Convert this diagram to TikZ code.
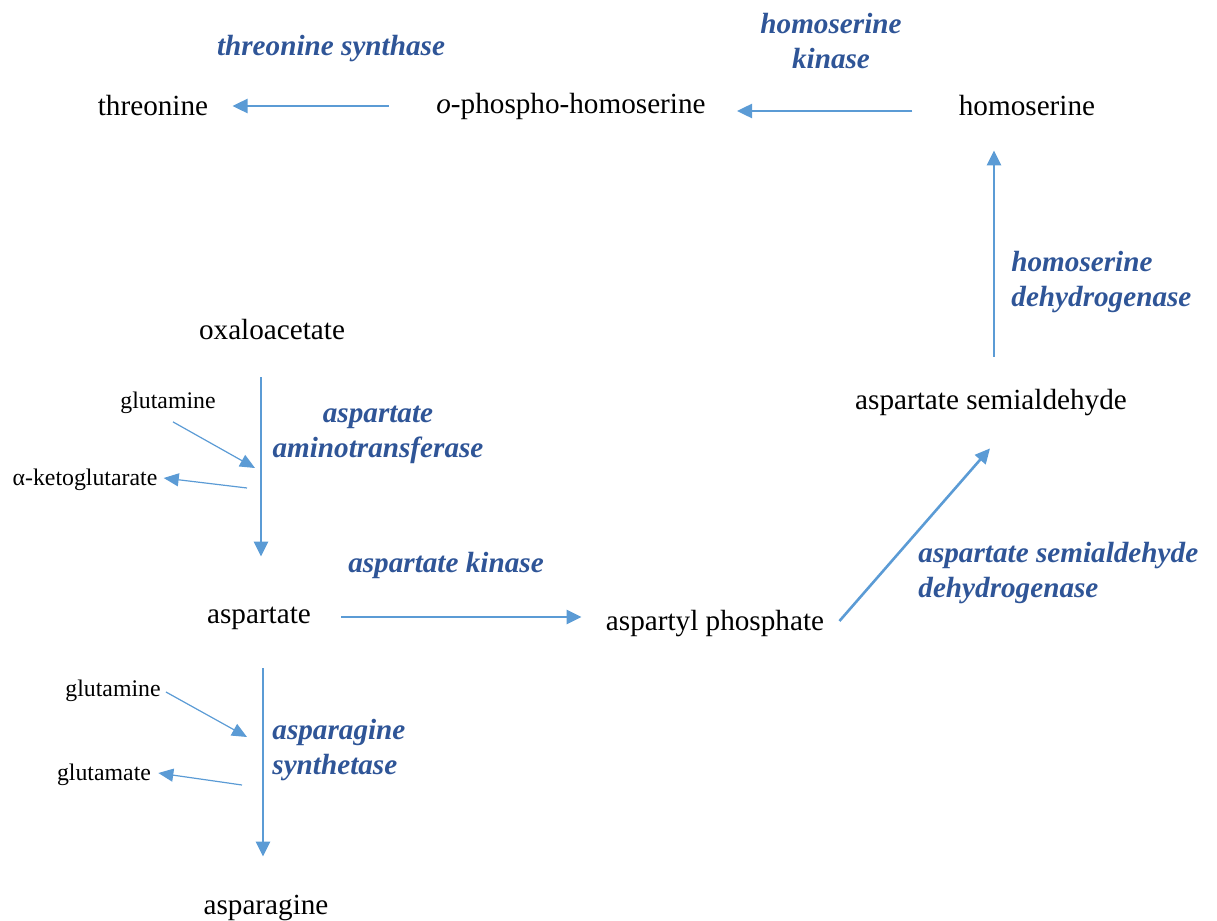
\documentclass[tikz,border=0pt]{standalone}
\usepackage{fontspec}
\setmainfont{Liberation Serif}
\usepackage{xcolor}
\usetikzlibrary{arrows.meta,positioning,calc}

\definecolor{arrowblue}{HTML}{5B9BD5}
\definecolor{enzblue}{HTML}{2F5597}

\tikzset{
    compound/.style={inner sep=0pt,font=\fontsize{14.6}{17.5}\selectfont,text height=11pt,text depth=3pt},
    cofactor/.style={inner sep=0pt,font=\fontsize{11.9}{14}\selectfont,text height=9.5pt,text depth=2.5pt},
    enzyme/.style={inner sep=0pt,text=enzblue,font=\fontsize{14.6}{17.5}\selectfont\bfseries\itshape},
    flow/.style={draw=arrowblue,line width=1.3pt,-{Triangle[length=7.5pt,width=7pt]}},
    side/.style={draw=arrowblue,line width=0.6pt,-{Triangle[length=7.5pt,width=6.5pt]}}
}

\begin{document}
\begin{tikzpicture}[x=0.5pt,y=-0.5pt]
    \useasboundingbox (0,0) rectangle (1217,921);

    \node[compound] (thr) at (153,107) {threonine};
    \node[compound] (ophos) at (571,105) {\textit{o}-phospho-homoserine};
    \node[compound] (hom) at (1027,107) {homoserine};
    \node[compound] (asa) at (991,401) {aspartate semialdehyde};
    \node[compound] (aspP) at (715,622) {aspartyl phosphate};
    \node[compound] (oxa) at (272,331) {oxaloacetate};
    \node[compound] (asp) at (259,615) {aspartate};
    \node[compound] (asn) at (266,906) {asparagine};

    \node[cofactor] (gln1) at (168,401) {glutamine};
    \node[cofactor] (akg) at (85,478) {α-ketoglutarate};
    \node[cofactor] (gln2) at (113,689) {glutamine};
    \node[cofactor] (glu) at (104,773) {glutamate};

    \node[enzyme] (ts) at (331,49) {threonine synthase};
    \node[enzyme,align=center] (hk) at (831,41) {homoserine\\kinase};
    \node[enzyme,align=left,anchor=west] (hd) at (1011,282) {homoserine\\dehydrogenase};
    \node[enzyme,align=left,anchor=west] (asd) at (918,573) {aspartate semialdehyde\\dehydrogenase};
    \node[enzyme] (ak) at (446,565) {aspartate kinase};
    \node[enzyme,align=center] (aat) at (378,435) {aspartate\\aminotransferase};
    \node[enzyme,align=left,anchor=west] (as) at (272,750) {asparagine\\synthetase};

    % main pathway
    \draw[flow,shorten <=23.5pt,shorten >=12pt] ([yshift=-0.5pt]ophos.west) -- ([yshift=0.5pt]thr.east);
    \draw[flow,shorten <=23pt,shorten >=15.5pt] ([yshift=-2pt]hom.west) -- ([yshift=-3pt]ophos.east);
    \draw[flow] ([shift={(1.5pt,15pt)}]asa.north) -- ([shift={(-16.5pt,-14.5pt)}]hom.south);
    \draw[flow,shorten <=15pt,shorten >=12pt] ([yshift=-1pt]asp.east) -- ([yshift=2.5pt]aspP.west);
    \draw[flow] ([shift={(7.5pt,0.5pt)}]aspP.east) -- ([shift={(-0.5pt,-16.5pt)}]asa.south);
    \draw[flow] ([shift={(-5.5pt,-16pt)}]oxa.south) -- ([shift={(1pt,22pt)}]asp.north);
    \draw[flow] ([shift={(2pt,-19.5pt)}]asp.south) -- ([shift={(-1.5pt,17.5pt)}]asn.north);

    % side reactions
    \coordinate (aatIn) at (255,468);
    \coordinate (aatOut) at (247,488);
    \coordinate (asIn) at (247,737);
    \coordinate (asOut) at (242,785);
    \draw[side] ([shift={(2.5pt,-4.25pt)}]gln1.south) -- (aatIn);
    \draw[side] (aatOut) -- ([xshift=3pt]akg.east);
    \draw[side] ([shift={(2.5pt,-1.5pt)}]gln2.east) -- (asIn);
    \draw[side] (asOut) -- ([xshift=3.5pt]glu.east);
\end{tikzpicture}
\end{document}
